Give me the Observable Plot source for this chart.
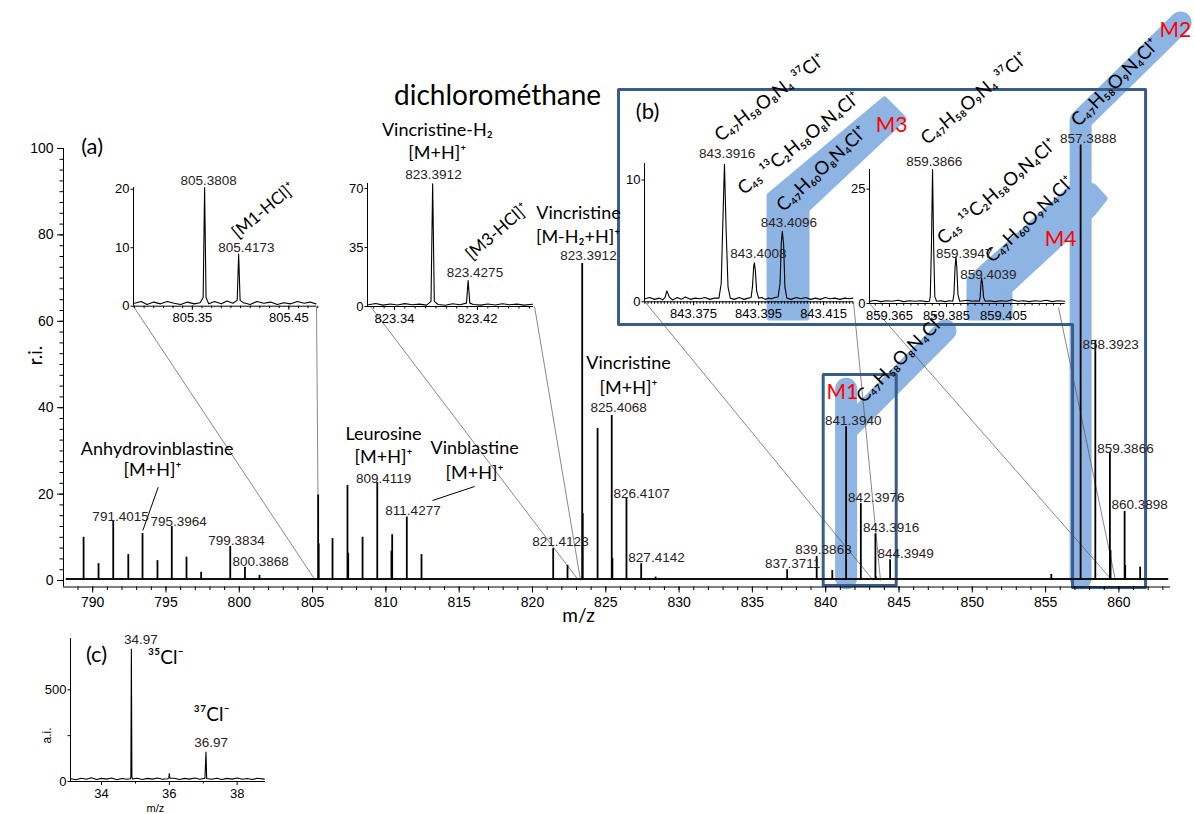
<!DOCTYPE html>
<html><head><meta charset="utf-8">
<script src="https://cdn.jsdelivr.net/npm/d3@7"></script>
<script src="https://cdn.jsdelivr.net/npm/@observablehq/plot@0.6"></script>
<style>
html,body{margin:0;padding:0;background:#fff;}
#fig{position:relative;width:1194px;height:814px;overflow:hidden;background:#fff;}
#fig > svg{position:absolute;}
</style></head>
<body><div id="fig"></div>
<script>
const NUM = "'Liberation Sans', Arial, sans-serif";
const SANS = "Lato, 'Noto Sans', 'DejaVu Sans', sans-serif";
const BAND = "#8DB4E2";
const BOX = "#385D8A";
const LAB = "#2b2222";

// ---------- main spectrum (a) ----------
const stickMz = [789.38, 790.40, 791.4015, 792.43, 793.40, 794.42, 795.3964, 796.40, 797.40, 799.3834, 800.3868, 801.38, 805.3808, 805.4173, 806.36, 807.38, 807.43, 808.41, 809.4119, 810.38, 810.43, 811.4277, 812.43, 821.4123, 822.39, 823.3912, 823.4275, 824.44, 825.4068, 825.45, 826.4107, 827.4142, 828.4, 837.3711, 839.3863, 840.45, 841.3940, 842.3976, 843.3916, 843.43, 844.3949, 855.39, 857.3888, 858.3923, 859.3866, 859.43, 860.3898, 860.43, 861.45];
const stickRi = [10.0, 3.9, 13.7, 6.0, 10.9, 4.6, 12.5, 5.4, 1.9, 7.9, 3.1, 1.2, 19.8, 8.5, 9.7, 22.0, 6.3, 10.0, 22.7, 6.8, 10.6, 14.7, 6.0, 7.4, 3.5, 73.4, 15.5, 35.2, 38.2, 5.1, 19.0, 3.9, 0.8, 2.5, 5.6, 2.3, 35.6, 17.8, 10.8, 0.8, 4.8, 1.4, 100.8, 55.6, 29.7, 6.9, 16.0, 3.5, 3.1];
const baselineLevel = [0.35];

const xTicks = [790, 795, 800, 805, 810, 815, 820, 825, 830, 835, 840, 845, 850, 855, 860];
const xMinor = d3.range(789, 864, 1);
const yTicks = [0, 20, 40, 60, 80, 100];
const yMinor = d3.range(0, 100.1, 2.5);

const peakLabelText = ["791.4015","795.3964","799.3834","800.3868","809.4119","811.4277","821.4123","823.3912","825.4068","826.4107","827.4142","837.3711","839.3863","841.3940","842.3976","843.3916","844.3949","857.3888","858.3923","859.3866","860.3898"];
const peakLabelMz = [791.90, 795.86, 799.81, 801.45, 809.84, 811.85, 821.91, 823.82, 825.87, 827.44, 828.46, 837.74, 839.85, 841.88, 843.45, 844.47, 845.45, 857.91, 859.43, 860.45, 861.41];
const peakLabelRi = [14.88, 13.73, 9.26, 4.47, 23.61, 16.20, 9.10, 75.23, 40.05, 20.21, 5.39, 3.94, 7.18, 37.04, 19.28, 12.27, 6.25, 102.25, 54.63, 30.63, 17.52];

const nameText = ["Anhydrovinblastine", "[M+H]⁺", "Leurosine", "[M+H]⁺", "Vinblastine", "[M+H]⁺", "Vincristine", "[M-H₂+H]⁺", "Vincristine", "[M+H]⁺"];
const nameMz = [794.40, 794.08, 809.84, 809.84, 816.05, 816.05, 823.14, 823.11, 826.55, 826.55];
const nameRi = [30.32, 25.46, 33.80, 28.47, 30.56, 24.77, 84.95, 79.47, 50.23, 44.44];

const formulaText = ["C₄₇H₅₈O₈N₄ ³⁷Cl⁺", "C₄₅ ¹³C₂H₅₈O₈N₄Cl⁺", "C₄₇H₆₀O₈N₄Cl⁺", "C₄₇H₅₈O₉N₄ ³⁷Cl⁺", "C₄₅ ¹³C₂H₅₈O₉N₄Cl⁺", "C₄₇H₆₀O₉N₄Cl⁺", "C₄₇H₅₈O₉N₄Cl⁺", "C₄₇H₅₈O₈N₄Cl⁺"];
const formulaMz = [832.83, 834.42, 837.13, 846.93, 848.06, 851.38, 857.25, 842.60];
const formulaRi = [101.46, 89.12, 85.19, 100.69, 77.55, 73.38, 104.86, 40.90];
const formulaAngle = [-37, -39, -43, -40, -41, -44, -45, -45];

const molText = ["M1", "M3", "M4", "M2"];
const molMz = [841.13, 844.49, 856.02, 863.85];
const molRi = [43.59, 105.32, 79.10, 127.3];

// highlight bands and boxes (m/z, r.i.)
const bandM1a = [[841.394, 0.5], [841.394, 44.4]];
const bandM1b = [[841.394, 34.7], [848.17, 57.87]];
const bandM2 = [[857.3888, 0.5], [857.3888, 106.48], [864.21, 129.17]];
const bandM3 = [[836.17, 60.88], [836.17, 89.12], [844.01, 111.34], [845.30, 106.94], [838.69, 85.88], [838.69, 60.88], [836.17, 60.88]];
const bandM4 = [[849.81, 60.88], [849.81, 69.68], [857.25, 92.36], [858.27, 91.20], [859.02, 88.43], [858.27, 85.19], [852.54, 67.13], [852.54, 60.88], [849.81, 60.88]];
const boxB = [[825.87, 113.66], [861.82, 113.66], [861.82, -1.62], [856.84, -1.62], [856.84, 59.26], [825.87, 59.26], [825.87, 113.66], [861.82, 113.66]];
const boxM1 = [[839.83, 47.69], [844.81, 47.69], [844.81, -1.16], [839.83, -1.16], [839.83, 47.69], [844.81, 47.69]];
const connectors = [
  [792.79, 63.43, 805.06, 0.69, 0], [805.27, 63.43, 805.41, 0.69, 1],
  [808.95, 63.43, 823.05, 0.46, 0], [820.14, 63.43, 823.28, 0.0, 1],
  [827.71, 64.35, 843.26, 0.0, 0], [841.90, 64.35, 843.74, 0.0, 1],
  [842.99, 64.12, 859.43, 0.46, 0], [855.88, 63.19, 859.77, 0.0, 1]
];
const pointers = [[794.47, 21.60, 793.42, 11.57], [813.18, 18.52, 816.05, 21.76]];

const fig = document.getElementById("fig");
const pair = {x: d => d[0], y: d => d[1]};

const main = Plot.plot({
  width: 1194, height: 814,
  marginLeft: 63, marginRight: 24, marginTop: 148, marginBottom: 227.5,
  x: {domain: [788.01, 863.52], label: null},
  y: {domain: [-1.5, 100], label: null},
  style: {background: "transparent", overflow: "visible", fontFamily: NUM, fontSize: "14px", color: "#000"},
  marks: [
    Plot.line(bandM3, {...pair, fill: BAND, stroke: BAND, strokeWidth: 6, strokeLinejoin: "round"}),
    Plot.line(bandM4, {...pair, fill: BAND, stroke: BAND, strokeWidth: 6, strokeLinejoin: "round"}),
    Plot.line(bandM1a, {...pair, stroke: BAND, strokeWidth: 22, strokeLinecap: "round"}),
    Plot.line(bandM1b, {...pair, stroke: BAND, strokeWidth: 22, strokeLinecap: "round"}),
    Plot.line(bandM2, {...pair, stroke: BAND, strokeWidth: 22, strokeLinecap: "round", strokeLinejoin: "round"}),
    Plot.line(boxB, {...pair, stroke: BOX, strokeWidth: 3}),
    Plot.line(boxM1, {...pair, stroke: BOX, strokeWidth: 3}),
    Plot.link(connectors, {x1: d => d[0], y1: d => d[1], x2: d => d[2], y2: d => d[3], stroke: "#555", strokeWidth: 0.7, strokeDasharray: d => d[4] ? "2,1.5" : null}),
    Plot.ruleY([-1.5], {stroke: "#000", strokeWidth: 1}),
    Plot.ruleX([788.01], {y1: -1.5, y2: 100, stroke: "#000", strokeWidth: 1}),
    Plot.axisX({ticks: xMinor, tickSize: 3.5, tickFormat: () => ""}),
    Plot.axisX({ticks: xTicks, tickSize: 6, tickPadding: 4}),
    Plot.axisY({ticks: yMinor, tickSize: 3.5, tickFormat: () => ""}),
    Plot.axisY({ticks: yTicks, tickSize: 6, tickPadding: 4}),
    Plot.ruleY(baselineLevel, {x1: 788.2, x2: 863.4, stroke: "#111", strokeWidth: 2}),
    Plot.ruleX(stickMz, {x: d => d, y1: 0, y2: (d, i) => stickRi[i], stroke: "#000", strokeWidth: 1.8}),
    Plot.link(pointers, {x1: d => d[0], y1: d => d[1], x2: d => d[2], y2: d => d[3], stroke: "#000", strokeWidth: 1}),
    Plot.text(peakLabelText, {x: (d, i) => peakLabelMz[i], y: (d, i) => peakLabelRi[i], text: d => d, fontFamily: NUM, fontSize: 13.5, fill: LAB}),
    Plot.text(nameText, {x: (d, i) => nameMz[i], y: (d, i) => nameRi[i], text: d => d, fontFamily: SANS, fontSize: 18, fill: "#000"}),
    Plot.text(formulaText, {x: (d, i) => formulaMz[i], y: (d, i) => formulaRi[i], text: d => d, rotate: (d, i) => formulaAngle[i], textAnchor: "start", lineAnchor: "bottom", fontFamily: SANS, fontSize: 18.5, fill: "#000"}),
    Plot.text(molText, {x: (d, i) => molMz[i], y: (d, i) => molRi[i], text: d => d, fontFamily: SANS, fontSize: 21, fill: "#FF0000"}),
    Plot.text(["dichlorométhane"], {x: 817.62, y: 112.04, text: d => d, fontFamily: SANS, fontSize: 28}),
    Plot.text(["(a)", "(b)"], {x: (d, i) => [789.96, 827.85][i], y: (d, i) => [100.30, 108.40][i], text: d => d, fontFamily: SANS, fontSize: 22}),
    Plot.text(["r.i."], {x: 786.10, y: 52.08, text: d => d, rotate: -90, fontFamily: SANS, fontSize: 19}),
    Plot.text(["m/z"], {x: 823.14, y: -8.1, text: d => d, fontFamily: SANS, fontSize: 19})
  ]
});
main.style.left = "0px"; main.style.top = "0px";
fig.appendChild(main);

// ---------- insets ----------
const profileA1 = [[805.290,0.5],[805.297,0.8],[805.303,0.3],[805.310,0.7],[805.317,0.4],[805.324,0.8],[805.331,0.5],[805.338,0.3],[805.345,0.7],[805.352,0.4],[805.358,0.6],[805.3612,1.5],[805.3627,20.3],[805.3642,1.5],[805.367,0.4],[805.373,0.8],[805.380,0.4],[805.386,0.9],[805.392,0.5],[805.3965,1.0],[805.3980,8.9],[805.3995,1.0],[805.403,0.6],[805.410,0.3],[805.417,0.8],[805.424,0.5],[805.431,0.7],[805.438,0.3],[805.445,0.6],[805.452,0.4],[805.459,0.8],[805.466,0.5],[805.472,0.7],[805.478,0.4]];
const profileA2 = [[823.315,1.0],[823.322,1.8],[823.329,0.8],[823.336,1.5],[823.343,0.9],[823.350,1.7],[823.357,1.0],[823.364,1.4],[823.371,0.8],[823.3752,3],[823.3768,72.8],[823.3784,3],[823.382,1.2],[823.389,0.7],[823.396,1.6],[823.403,1.0],[823.4094,2],[823.4110,15.4],[823.4126,2],[823.416,1.2],[823.423,0.8],[823.430,1.5],[823.437,0.9],[823.444,1.6],[823.451,1.0],[823.458,1.4],[823.465,0.8],[823.473,1.3]];
const profileB1 = [[843.3600,0.25],[843.3615,0.35],[843.3630,0.2],[843.3645,0.3],[843.3655,0.15],[843.3662,0.35],[843.3668,0.9],[843.3675,0.4],[843.3685,0.15],[843.3700,0.35],[843.3712,0.2],[843.3725,0.4],[843.3740,0.2],[843.3755,0.3],[843.3770,0.25],[843.3785,0.35],[843.3800,0.2],[843.3815,0.3],[843.3828,0.3],[843.3835,1.5],[843.3840,6.5],[843.3845,11.3],[843.3850,6.0],[843.3856,1.2],[843.3863,0.3],[843.3875,0.2],[843.3890,0.35],[843.3905,0.2],[843.3918,0.3],[843.3927,0.35],[843.3931,1.2],[843.3935,2.9],[843.3937,3.2],[843.3940,2.6],[843.3944,0.9],[843.3950,0.3],[843.3960,0.35],[843.3970,0.2],[843.3980,0.3],[843.3990,0.25],[843.4000,0.35],[843.4010,0.4],[843.4016,1.5],[843.4020,4.9],[843.4023,5.8],[843.4027,4.7],[843.4031,1.2],[843.4037,0.3],[843.4050,0.2],[843.4065,0.35],[843.4080,0.25],[843.4095,0.35],[843.4110,0.2],[843.4125,0.3],[843.4140,0.2],[843.4155,0.35],[843.4170,0.25],[843.4185,0.3],[843.4200,0.2],[843.4215,0.3],[843.4230,0.25],[843.4240,0.3]];
const profileB2 = [[859.3582,0.5],[859.3600,0.7],[859.3620,0.4],[859.3640,0.6],[859.3660,0.5],[859.3680,0.7],[859.3700,0.4],[859.3720,0.6],[859.3740,0.5],[859.3760,0.6],[859.3780,0.4],[859.3790,0.5],[859.3793,1.5],[859.3797,12],[859.3801,29.3],[859.3805,12],[859.3809,1.5],[859.3815,0.5],[859.3830,0.6],[859.3845,0.4],[859.3860,0.6],[859.3872,0.5],[859.3876,2],[859.3880,8],[859.3883,10.2],[859.3886,8],[859.3890,2],[859.3896,0.5],[859.3910,0.6],[859.3925,0.7],[859.3940,0.5],[859.3955,0.6],[859.3965,0.5],[859.3968,1.5],[859.3971,4.5],[859.3973,5.6],[859.3976,4.4],[859.3980,1.3],[859.3986,0.5],[859.4000,0.6],[859.4020,0.4],[859.4040,0.6],[859.4060,0.5],[859.4080,0.8],[859.4100,0.5],[859.4120,0.6],[859.4140,0.4],[859.4160,0.6],[859.4180,0.5],[859.4200,0.7],[859.4220,0.4],[859.4240,0.6],[859.4265,0.5]];
const profileC = [[33.10,15],[33.25,10],[33.40,18],[33.55,12],[33.70,20],[33.85,11],[34.00,17],[34.15,13],[34.30,19],[34.45,10],[34.60,16],[34.75,12],[34.85,15],[34.865,25],[34.88,723],[34.895,25],[34.91,14],[35.05,18],[35.20,11],[35.35,17],[35.50,13],[35.65,19],[35.80,12],[35.95,15],[35.985,20],[36.00,43],[36.015,18],[36.15,18],[36.30,11],[36.45,17],[36.60,13],[36.75,19],[36.90,12],[37.05,18],[37.08,160],[37.10,16],[37.25,12],[37.40,18],[37.55,11],[37.70,17],[37.85,13],[38.00,19],[38.15,12],[38.30,16],[38.45,11],[38.60,18],[38.80,13]];

const labelsA1 = [["805.3808", 805.367, 21.54], ["805.4173", 805.406, 10.09]];
const labelsA2 = [["823.3912", 823.3776, 78.3], ["823.4275", 823.4176, 20.34]];
const labelsB1 = [["843.3916", 843.3853, 12.19], ["843.4008", 843.3949, 3.94], ["843.4096", 843.4043, 6.52]];
const labelsB2 = [["859.3866", 859.3807, 30.96], ["859.3947", 859.3912, 11.0], ["859.4039", 859.3997, 6.41]];
const labelsC = [["34.97", 35.16, 775], ["36.97", 37.23, 212.6]];

function drawInset(s) {
  const mL = 45, mR = 20, mT = 20, mB = 35;
  const fw = s.x1 - s.x0, fh = s.yBottom - s.yTop;
  const p = Plot.plot({
    width: fw + mL + mR, height: fh + mT + mB,
    marginLeft: mL, marginRight: mR, marginTop: mT, marginBottom: mB,
    x: {domain: s.xDomain, label: null},
    y: {domain: s.yDomain, label: null},
    style: {background: "transparent", overflow: "visible", fontFamily: NUM, fontSize: "13px", color: "#000"},
    marks: [
      Plot.ruleY([s.yDomain[0]], {stroke: "#000", strokeWidth: 1}),
      Plot.ruleX([s.xDomain[0]], {stroke: "#000", strokeWidth: 1}),
      Plot.axisX({ticks: s.xMinor, tickSize: 2.5, tickFormat: () => ""}),
      Plot.axisX({ticks: s.xTicks, tickSize: 4, tickPadding: 3, tickFormat: s.xFmt}),
      ...(s.yMinor ? [Plot.axisY({ticks: s.yMinor, tickSize: 2.5, tickFormat: () => ""})] : []),
      Plot.axisY({ticks: s.yTicks, tickSize: 2.5, tickPadding: 1.5}),
      Plot.line(s.profile, {...pair, stroke: "#000", strokeWidth: 1.1}),
      Plot.text(s.labels, {x: d => d[1], y: d => d[2], text: d => d[0], fontFamily: NUM, fontSize: 13.5, fill: LAB}),
      ...(s.extra || [])
    ]
  });
  p.style.left = (s.x0 - mL) + "px";
  p.style.top = (s.yTop - mT) + "px";
  fig.appendChild(p);
}

drawInset({x0: 132.7, x1: 316, yTop: 187.3, yBottom: 306, xDomain: [805.289, 805.479], yDomain: [0, 20.3],
  xTicks: [805.35, 805.45], xMinor: d3.range(805.29, 805.48, 0.01), xFmt: d => d.toFixed(2), yTicks: [0, 10, 20],
  profile: profileA1, labels: labelsA1,
  extra: [Plot.text(["[M1-HCl]⁺"], {x: 805.424, y: 16.41, text: d => d, rotate: -40, fontFamily: SANS, fontSize: 17})]});
drawInset({x0: 366.7, x1: 532.7, yTop: 183, yBottom: 306, xDomain: [823.314, 823.474], yDomain: [0, 73],
  xTicks: [823.34, 823.42], xMinor: d3.range(823.32, 823.475, 0.01), xFmt: d => d.toFixed(2), yTicks: [0, 35, 70],
  profile: profileA2, labels: labelsA2,
  extra: [
    Plot.text(["Vincristine-H₂", "[M+H]⁺"], {x: 823.3813, y: (d, i) => [104.4, 90.7][i], text: d => d, fontFamily: SANS, fontSize: 18}),
    Plot.text(["[M3-HCl]⁺"], {x: 823.439, y: 44.5, text: d => d, rotate: -41, fontFamily: SANS, fontSize: 17})
  ]});
drawInset({x0: 644.3, x1: 853.3, yTop: 162.7, yBottom: 301, xDomain: [843.3599, 843.4242], yDomain: [0, 11.36],
  xTicks: [843.375, 843.395, 843.415], xMinor: d3.range(843.360, 843.4245, 0.001), xFmt: d => d.toFixed(3), yTicks: [0, 10],
  profile: profileB1, labels: labelsB1});
drawInset({x0: 869.3, x1: 1065, yTop: 169.3, yBottom: 303.3, xDomain: [859.358, 859.4266], yDomain: [0, 29.3],
  xTicks: [859.365, 859.385, 859.405], xMinor: d3.range(859.3600, 859.4266, 0.0025), xFmt: d => d.toFixed(3), yTicks: [0, 25],
  profile: profileB2, labels: labelsB2});
drawInset({x0: 70, x1: 265, yTop: 638, yBottom: 781, xDomain: [33.085, 38.835], yDomain: [0, 780],
  xTicks: [34, 36, 38], xMinor: [35, 37], xFmt: d => String(d), yTicks: [0, 500], yMinor: [250],
  profile: profileC, labels: labelsC,
  extra: [
    Plot.text(["³⁵Cl⁻", "³⁷Cl⁻"], {x: (d, i) => [35.36, 36.713][i], y: (d, i) => [676, 365.3][i], text: d => d, textAnchor: "start", fontFamily: SANS, fontSize: 19}),
    Plot.text(["(c)"], {x: 33.852, y: 692.5, text: d => d, fontFamily: SANS, fontSize: 22}),
    Plot.text(["a.i."], {x: 32.41, y: 250.8, text: d => d, rotate: -90, fontFamily: NUM, fontSize: 12}),
    Plot.text(["m/z"], {x: 35.59, y: -145, text: d => d, fontFamily: NUM, fontSize: 11})
  ]});
</script></body></html>
